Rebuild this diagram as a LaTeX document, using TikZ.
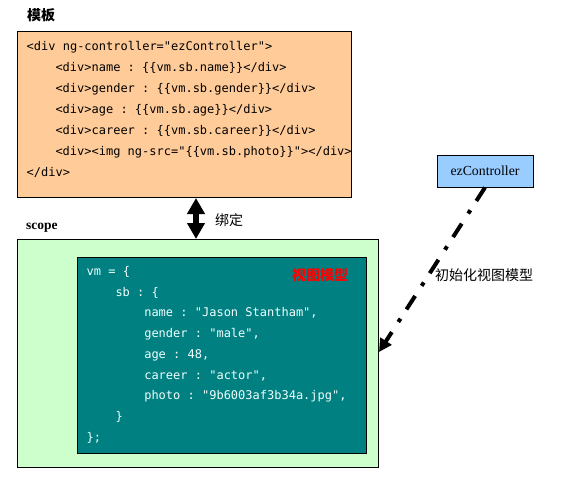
\documentclass[tikz,border=0pt]{standalone}
\usepackage{fontspec}
\setmainfont{Liberation Serif}
\setmonofont{DejaVu Sans Mono}
\newfontfamily\cjk{Noto Sans CJK SC}
\usetikzlibrary{arrows.meta}
\definecolor{peach}{HTML}{FFCC99}
\definecolor{mint}{HTML}{CCFFCC}
\definecolor{tealbox}{HTML}{008080}
\definecolor{skyblue}{HTML}{99CCFF}
\definecolor{codewhite}{HTML}{F0FFFF}
\begin{document}
\begin{tikzpicture}[x=1pt,y=-1pt,
  panel/.style={draw=black, line width=1pt, anchor=north west, inner sep=0pt},
  code/.style={font=\ttfamily\fontsize{12}{12}\selectfont, anchor=base west, inner sep=0pt},
  vmcode/.style={code, text=codewhite},
  cjklabel/.style={font=\cjk\fontsize{14}{14}\selectfont, anchor=base west, inner sep=0pt},
  titlelabel/.style={font=\cjk\bfseries\fontsize{14}{14}\selectfont, anchor=base west, inner sep=0pt}
]
\useasboundingbox (0,0) rectangle (563,483);

% template box
\node[titlelabel] (tpltitle) at (27,20.3) {模板};
\node[panel, fill=peach, minimum width=334pt, minimum height=166pt] (tpl) at (17,31) {};
\node[code] (t1) at (26.5,50) {<div ng-controller="ezController">};
\node[code] (t2) at (55.3,71) {<div>name : \{\{vm.sb.name\}\}</div>};
\node[code] (t3) at (55.3,92) {<div>gender : \{\{vm.sb.gender\}\}</div>};
\node[code] (t4) at (55.3,113) {<div>age : \{\{vm.sb.age\}\}</div>};
\node[code] (t5) at (55.3,134) {<div>career : \{\{vm.sb.career\}\}</div>};
\node[code] (t6) at (55.3,155) {<div><img ng-src="\{\{vm.sb.photo\}\}"></div>};
\node[code] (t7) at (26.5,176) {</div>};

% scope box
\node[font=\bfseries\fontsize{13.5}{13.5}\selectfont, anchor=base west, inner sep=0pt] (scopetitle) at (26,229) {scope};
\node[panel, fill=mint, minimum width=361pt, minimum height=228pt] (scope) at (17,239) {};
\node[panel, fill=tealbox, line width=1.2pt, minimum width=289pt, minimum height=196pt] (vm) at (77,257) {};
\node[titlelabel, text=red] (vmtitle) at (292,280.3) {视图模型};
\node[vmcode] (v1) at (86.5,275.3) {vm = \{};
\node[vmcode] (v2) at (115.3,296) {sb : \{};
\node[vmcode] (v3) at (144.1,316.8) {name : "Jason Stantham",};
\node[vmcode] (v4) at (144.1,337.5) {gender : "male",};
\node[vmcode] (v5) at (144.1,358.3) {age : 48,};
\node[vmcode] (v6) at (144.1,379) {career : "actor",};
\node[vmcode] (v7) at (144.1,399.8) {photo : "9b6003af3b34a.jpg",};
\node[vmcode] (v8) at (115.3,420.5) {\}};
\node[vmcode] (v9) at (86.5,441.3) {\};};

% binding arrow
\coordinate (bindx) at (196,0);
\draw[line width=6pt, {Triangle[width=17pt,length=16pt]}-{Triangle[width=17pt,length=16pt]}]
  (tpl.south -| bindx) -- (scope.north -| bindx);
\node[cjklabel] (bindlabel) at (215,225.3) {绑定};

% controller
\node[draw=black, line width=1pt, fill=skyblue, minimum width=96pt, minimum height=32pt, inner sep=0pt,
  font=\fontsize{13.8}{13.8}\selectfont] (ez) at (485,171) {ezController};
\coordinate (inith) at (0,352);
\draw[line width=4pt, dash pattern=on 16pt off 11pt on 4pt off 12pt,
  -{Triangle[width=13pt,length=13pt]}] (ez.south) -- (scope.east |- inith);
\node[cjklabel] (initlabel) at (435,280.3) {初始化视图模型};
\end{tikzpicture}
\end{document}
